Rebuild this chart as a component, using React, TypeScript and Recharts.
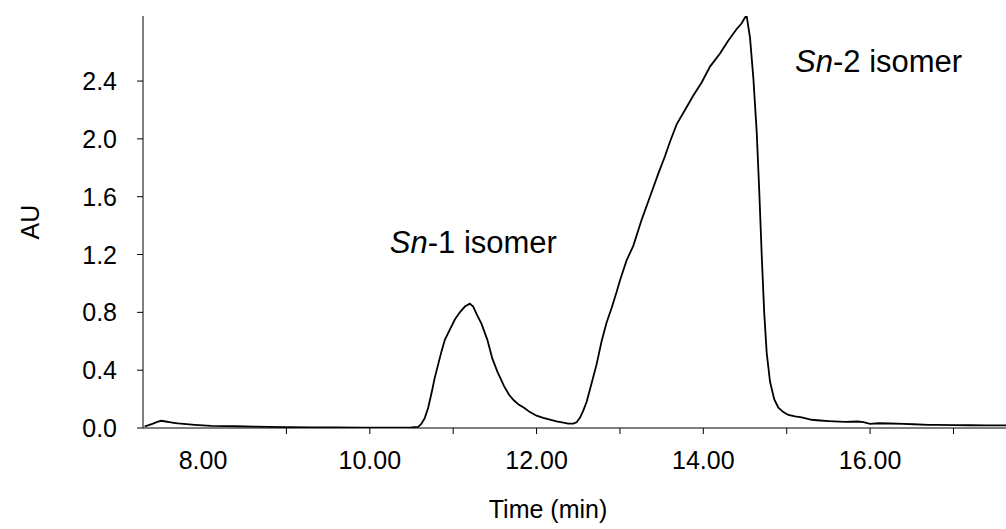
import React from "react";
import { LineChart, Line, XAxis, YAxis, ReferenceDot } from "recharts";

// retention time (min) and detector response (AU)
const times = [
  7.3, 7.35, 7.4, 7.45, 7.5, 7.55, 7.6, 7.65, 7.7, 7.8, 7.9, 8.0, 8.1, 8.25, 8.4,
  8.6, 8.8, 9.0, 9.3, 9.6, 9.9, 10.2, 10.5, 10.58, 10.62, 10.66, 10.7, 10.74,
  10.78, 10.82, 10.86, 10.9, 10.96, 11.02, 11.08, 11.14, 11.2, 11.24, 11.28,
  11.34, 11.41, 11.47, 11.53, 11.61, 11.67, 11.73, 11.79, 11.85, 11.92, 12.0,
  12.08, 12.16, 12.24, 12.32, 12.38, 12.44, 12.48, 12.52, 12.56, 12.6, 12.66,
  12.72, 12.78, 12.84, 12.9, 12.96, 13.0, 13.08, 13.16, 13.26, 13.36, 13.46,
  13.54, 13.6, 13.68, 13.78, 13.88, 13.98, 14.08, 14.2, 14.3, 14.4, 14.46, 14.5,
  14.52, 14.56, 14.6, 14.64, 14.67, 14.7, 14.73, 14.76, 14.8, 14.85, 14.9,
  14.96, 15.02, 15.1, 15.18, 15.3, 15.4, 15.5, 15.7, 15.85, 15.92, 16.0, 16.1,
  16.24, 16.4, 16.52, 16.7, 16.8, 17.0, 17.2, 17.4, 17.63,
];
const absorbance = [
  0.012, 0.02, 0.03, 0.042, 0.05, 0.045, 0.04, 0.036, 0.032, 0.027, 0.022,
  0.018, 0.015, 0.013, 0.012, 0.01, 0.008, 0.006, 0.005, 0.004, 0.003, 0.003,
  0.004, 0.008, 0.03, 0.07, 0.14, 0.24, 0.35, 0.44, 0.53, 0.61, 0.68, 0.75,
  0.8, 0.84, 0.86, 0.84, 0.79, 0.72, 0.61, 0.48, 0.39, 0.29, 0.23, 0.19, 0.16,
  0.14, 0.11, 0.085, 0.07, 0.058, 0.046, 0.037, 0.03, 0.03, 0.04, 0.07, 0.12,
  0.18, 0.31, 0.44, 0.6, 0.73, 0.83, 0.94, 1.02, 1.16, 1.26, 1.44, 1.6, 1.76,
  1.88, 1.98, 2.1, 2.2, 2.3, 2.39, 2.5, 2.59, 2.68, 2.76, 2.8, 2.84, 2.85, 2.7,
  2.42, 2.05, 1.65, 1.2, 0.8, 0.52, 0.32, 0.2, 0.14, 0.11, 0.09, 0.08, 0.074,
  0.057, 0.052, 0.048, 0.042, 0.045, 0.04, 0.028, 0.033, 0.031, 0.028, 0.026,
  0.022, 0.021, 0.02, 0.019, 0.018, 0.018,
];

const xTicks = [8, 9, 10, 11, 12, 13, 14, 15, 16, 17];
const xLabelled = [8, 10, 12, 14, 16];
const yTicks = [0, 0.4, 0.8, 1.2, 1.6, 2.0, 2.4];

const data = times.map((t, i) => ({ t, au: absorbance[i] }));

const FONT = '"Liberation Sans", Arial, sans-serif';

const XTick = (props: any) => {
  const { x, y, payload } = props;
  const v = payload.value;
  return (
    <g>
      {v !== 8 && <line x1={x} y1={y} x2={x} y2={y + 6} stroke="#000" />}
      {xLabelled.includes(v) && (
        <text x={x} y={y + 41} textAnchor="middle" fontSize={25} fontFamily={FONT} fill="#000">
          {v.toFixed(2)}
        </text>
      )}
    </g>
  );
};

const YTick = (props: any) => {
  const { x, y, payload } = props;
  return (
    <g>
      <line x1={x - 6} y1={y} x2={x} y2={y} stroke="#000" />
      <text x={x - 26} y={y + 9} textAnchor="end" fontSize={25} fontFamily={FONT} fill="#000">
        {payload.value.toFixed(1)}
      </text>
    </g>
  );
};

const peakLabel = (num: string) => (props: any) => {
  const { viewBox } = props;
  return (
    <text x={viewBox.x} y={viewBox.y} fontSize={31} fontFamily={FONT} fill="#000">
      <tspan fontStyle="italic">Sn</tspan>
      <tspan>{`-${num} isomer`}</tspan>
    </text>
  );
};

export default function App() {
  return (
    <div style={{ position: "absolute", left: 0, top: 0, background: "#fff" }}>
      <LineChart
        width={1006}
        height={529}
        data={data}
        margin={{ top: 16, right: 0, bottom: 0, left: 0 }}
      >
        <XAxis
          dataKey="t"
          type="number"
          domain={[7.28, 17.63]}
          ticks={xTicks}
          tick={<XTick />}
          tickLine={false}
          tickSize={0}
          tickMargin={0}
          height={101}
          stroke="#000"
          interval={0}
          allowDataOverflow
          label={{
            content: (p: any) => (
              <text x={548} y={p.viewBox.y + 90} textAnchor="middle" fontSize={25} fontFamily={FONT} fill="#000">
                Time (min)
              </text>
            ),
          }}
        />
        <YAxis
          type="number"
          domain={[0, 2.85]}
          ticks={yTicks}
          tick={<YTick />}
          tickLine={false}
          tickSize={0}
          tickMargin={0}
          width={143}
          stroke="#000"
          interval={0}
          allowDataOverflow
          label={{
            content: (p: any) => {
              const cy = p.viewBox.y + p.viewBox.height / 2;
              return (
                <text
                  x={30}
                  y={cy}
                  transform={`rotate(-90 30 ${cy})`}
                  textAnchor="middle"
                  dominantBaseline="central"
                  fontSize={25}
                  fontFamily={FONT}
                  fill="#000"
                >
                  AU
                </text>
              );
            },
          }}
        />
        <Line
          type="linear"
          dataKey="au"
          stroke="#000"
          strokeWidth={1.8}
          dot={false}
          activeDot={false}
          isAnimationActive={false}
        />
        <ReferenceDot x={10.24} y={1.21} r={0} fill="none" stroke="none" label={{ content: peakLabel("1") }} />
        <ReferenceDot x={15.1} y={2.46} r={0} fill="none" stroke="none" label={{ content: peakLabel("2") }} />
      </LineChart>
    </div>
  );
}
